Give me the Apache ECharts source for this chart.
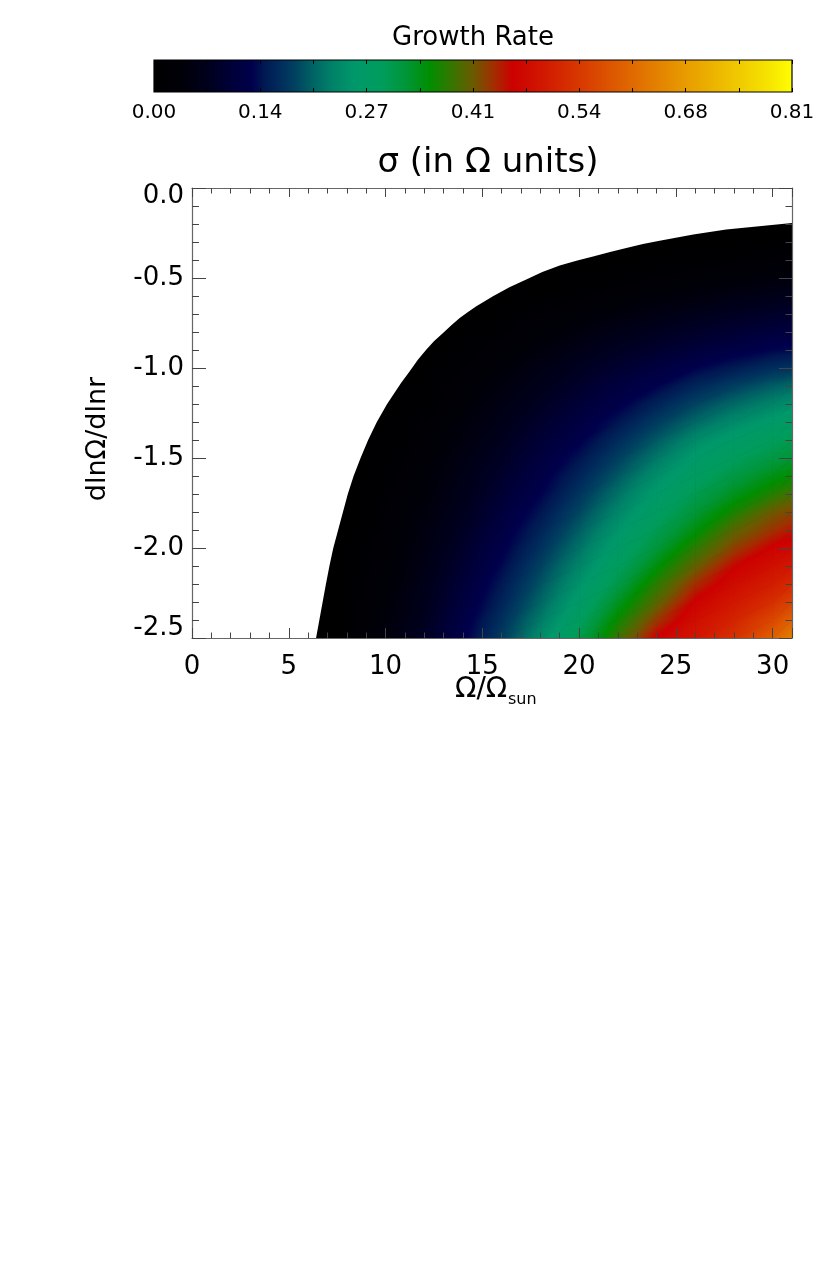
<!DOCTYPE html>
<html>
<head>
<meta charset="utf-8">
<title>Growth Rate</title>
<script src="https://cdn.jsdelivr.net/npm/echarts@6/dist/echarts.min.js"></script>
<style>
  html, body { margin: 0; padding: 0; background: #fff; }
  #main { width: 830px; height: 1285px; }
</style>
</head>
<body>
<div id="main"></div>
<script>
// grid columns (Omega/Omega_sun) and rows (dlnOmega/dlnr) the growth rate was read at
const omegaCols = [8, 10, 12, 14, 16, 18, 20, 22, 24, 26, 28, 30, 31];
const shearRows = [-0.2, -0.3, -0.4, -0.5, -0.6, -0.7, -0.8, -0.9, -1.0, -1.1, -1.2, -1.3,
  -1.4, -1.5, -1.6, -1.7, -1.8, -1.9, -2.0, -2.1, -2.2, -2.3, -2.4, -2.5];
const n = null; // stable, no growth
const sigma = [
  [n, n, n, n, n, n, n, n, n, n, n, n, 0.001],
  [n, n, n, n, n, n, n, n, 0.000, 0.003, 0.006, 0.009, 0.012],
  [n, n, n, n, n, n, 0.000, 0.004, 0.009, 0.014, 0.018, 0.023, 0.026],
  [n, n, n, n, n, 0.001, 0.007, 0.014, 0.021, 0.027, 0.033, 0.039, 0.043],
  [n, n, n, n, 0.002, 0.010, 0.018, 0.027, 0.035, 0.043, 0.052, 0.060, 0.064],
  [n, n, n, n, 0.010, 0.020, 0.030, 0.041, 0.053, 0.064, 0.074, 0.082, 0.086],
  [n, n, n, 0.006, 0.018, 0.030, 0.044, 0.059, 0.072, 0.082, 0.093, 0.103, 0.108],
  [n, n, n, 0.013, 0.027, 0.042, 0.059, 0.074, 0.088, 0.101, 0.115, 0.127, 0.132],
  [n, n, 0.005, 0.020, 0.035, 0.054, 0.072, 0.090, 0.107, 0.125, 0.143, 0.161, 0.166],
  [n, n, 0.010, 0.026, 0.045, 0.064, 0.084, 0.105, 0.125, 0.153, 0.176, 0.198, 0.207],
  [n, n, 0.015, 0.032, 0.053, 0.074, 0.097, 0.119, 0.150, 0.180, 0.207, 0.230, 0.242],
  [n, 0.004, 0.020, 0.039, 0.061, 0.085, 0.109, 0.138, 0.173, 0.206, 0.236, 0.263, 0.275],
  [n, 0.008, 0.024, 0.045, 0.069, 0.095, 0.121, 0.158, 0.195, 0.236, 0.267, 0.289, 0.300],
  [n, 0.011, 0.028, 0.052, 0.077, 0.105, 0.137, 0.176, 0.218, 0.261, 0.289, 0.312, 0.322],
  [n, 0.014, 0.033, 0.058, 0.085, 0.115, 0.152, 0.194, 0.241, 0.279, 0.311, 0.339, 0.352],
  [n, 0.017, 0.037, 0.063, 0.093, 0.125, 0.167, 0.213, 0.261, 0.300, 0.334, 0.368, 0.385],
  [0.002, 0.020, 0.042, 0.069, 0.102, 0.138, 0.182, 0.231, 0.279, 0.320, 0.363, 0.406, 0.418],
  [0.004, 0.023, 0.047, 0.075, 0.111, 0.151, 0.198, 0.250, 0.298, 0.343, 0.395, 0.428, 0.443],
  [0.007, 0.025, 0.051, 0.083, 0.120, 0.164, 0.214, 0.268, 0.318, 0.372, 0.421, 0.459, 0.468],
  [0.009, 0.028, 0.056, 0.090, 0.130, 0.178, 0.230, 0.286, 0.344, 0.400, 0.452, 0.479, 0.492],
  [0.011, 0.030, 0.061, 0.098, 0.141, 0.191, 0.247, 0.307, 0.371, 0.431, 0.472, 0.501, 0.518],
  [0.012, 0.034, 0.065, 0.105, 0.151, 0.204, 0.265, 0.332, 0.394, 0.458, 0.491, 0.526, 0.555],
  [0.015, 0.038, 0.070, 0.113, 0.163, 0.220, 0.284, 0.356, 0.425, 0.476, 0.510, 0.560, 0.595],
  [0.017, 0.042, 0.077, 0.121, 0.174, 0.238, 0.304, 0.380, 0.457, 0.490, 0.530, 0.595, 0.635]
];

// marginal stability curve (white region lies left of / above it)
const edgeOmega = [6.41, 6.58, 6.75, 6.92, 7.1, 7.3, 7.55, 7.8, 8.05, 8.35, 8.71, 9.1, 9.55,
  10.08, 10.8, 11.24, 11.67, 12.1, 12.5, 12.97, 13.4, 13.83, 14.26, 14.69, 15.1, 15.55,
  16.4, 17.27, 18.1, 19.0, 19.86, 20.72, 21.6, 22.44, 23.3, 24.16, 25.9, 27.6, 29.3, 31.0];
const edgeShear = [-2.5, -2.4, -2.3, -2.2, -2.1, -2.0, -1.9, -1.8, -1.7, -1.6, -1.5, -1.4, -1.3,
  -1.2, -1.083, -1.02, -0.954, -0.898, -0.852, -0.806, -0.763, -0.722, -0.689, -0.657,
  -0.63, -0.602, -0.552, -0.509, -0.467, -0.43, -0.404, -0.38, -0.356, -0.333, -0.311, -0.293,
  -0.259, -0.231, -0.213, -0.194];

// colour bar ticks
const barTickValues = [0, 0.135, 0.27, 0.405, 0.54, 0.675, 0.81];
const barTickText = ['0.00', '0.14', '0.27', '0.41', '0.54', '0.68', '0.81'];

const FONT = 'DejaVu Sans';

// colour table (black - blue - green - red - yellow)
const cmapStops = [
  [0.000, '#000000'], [0.035, '#000008'], [0.070, '#00001e'], [0.105, '#00003e'],
  [0.125, '#00004c'], [0.140, '#001852'], [0.160, '#002c5c'], [0.180, '#004260'],
  [0.200, '#006064'], [0.225, '#008068'], [0.255, '#00986a'], [0.290, '#009c5c'],
  [0.320, '#009638'], [0.350, '#008e00'], [0.380, '#3a7400'], [0.405, '#6a5a00'],
  [0.430, '#a03000'], [0.455, '#cc0000'], [0.500, '#d21c00'], [0.545, '#d83c00'],
  [0.610, '#e06c00'], [0.675, '#e89c00'], [0.740, '#f0c800'], [0.780, '#f6e400'],
  [0.810, '#ffff00']
];

function hexRgb(h) {
  return [parseInt(h.slice(1, 3), 16), parseInt(h.slice(3, 5), 16), parseInt(h.slice(5, 7), 16)];
}
function cmap(v) {
  if (v <= cmapStops[0][0]) return cmapStops[0][1];
  for (let k = 1; k < cmapStops.length; k++) {
    if (v <= cmapStops[k][0]) {
      const t0 = cmapStops[k - 1][0], t1 = cmapStops[k][0];
      const a = hexRgb(cmapStops[k - 1][1]), b = hexRgb(cmapStops[k][1]);
      const f = (v - t0) / (t1 - t0);
      return 'rgb(' + a.map((c, i) => Math.round(c + (b[i] - c) * f)).join(',') + ')';
    }
  }
  return cmapStops[cmapStops.length - 1][1];
}

// one triangle, shaded along its value gradient through the colour table
function shadedTriangle(p, v) {
  const dx1 = p[1][0] - p[0][0], dy1 = p[1][1] - p[0][1], dv1 = v[1] - v[0];
  const dx2 = p[2][0] - p[0][0], dy2 = p[2][1] - p[0][1], dv2 = v[2] - v[0];
  const det = dx1 * dy2 - dx2 * dy1;
  const lo = Math.min(v[0], v[1], v[2]), hi = Math.max(v[0], v[1], v[2]);
  let fill;
  if (hi - lo < 1e-6 || Math.abs(det) < 1e-9) {
    fill = cmap((lo + hi) / 2);
  } else {
    const gx = (dv1 * dy2 - dv2 * dy1) / det;
    const gy = (dx1 * dv2 - dx2 * dv1) / det;
    const g2 = gx * gx + gy * gy;
    const sx = p[0][0] + (lo - v[0]) * gx / g2, sy = p[0][1] + (lo - v[0]) * gy / g2;
    const ex = p[0][0] + (hi - v[0]) * gx / g2, ey = p[0][1] + (hi - v[0]) * gy / g2;
    const stops = [{ offset: 0, color: cmap(lo) }];
    cmapStops.forEach(s => {
      if (s[0] > lo && s[0] < hi) stops.push({ offset: (s[0] - lo) / (hi - lo), color: s[1] });
    });
    stops.push({ offset: 1, color: cmap(hi) });
    fill = new echarts.graphic.LinearGradient(sx, sy, ex, ey, stops, true);
  }
  return { type: 'polygon', shape: { points: p }, style: { fill: fill, stroke: fill, lineWidth: 0.8 } };
}

const cells = [];
const val = (i, j) => (sigma[i][j] == null ? 0 : sigma[i][j]);
for (let i = 0; i < shearRows.length - 1; i++) {
  for (let j = 0; j < omegaCols.length - 1; j++) {
    const c = [val(i, j), val(i, j + 1), val(i + 1, j), val(i + 1, j + 1)];
    if (Math.max.apply(null, c) <= 0) continue;
    cells.push([omegaCols[j], shearRows[i], omegaCols[j + 1], shearRows[i + 1]].concat(c));
  }
}

const chart = echarts.init(document.getElementById('main'));

const tickGray = '#444';
const lineGray = '#666';
const mainLabel = { fontSize: 26, fontFamily: FONT, color: '#000' };

function frameAxis(extra) {
  return Object.assign({
    type: 'value', z: 10,
    axisLine: { show: false, onZero: false },
    axisLabel: { show: false },
    splitLine: { show: false }
  }, extra);
}

const option = {
  animation: false,
  backgroundColor: '#fff',
  grid: [
    { left: 192, top: 188, width: 600, height: 450, show: true, backgroundColor: '#000', borderWidth: 0 },
    { left: 154, top: 60, width: 638, height: 32 }
  ],
  xAxis: [
    frameAxis({ gridIndex: 0, position: 'bottom', min: 0, max: 31, interval: 5,
      axisLine: { show: true, onZero: false, lineStyle: { color: lineGray, width: 1.2 } },
      axisTick: { show: true, inside: true, length: 10, lineStyle: { color: tickGray } },
      axisLabel: Object.assign({ show: true, margin: 16, formatter: v => (v % 5 === 0 ? String(v) : '') }, mainLabel) }),
    frameAxis({ gridIndex: 0, position: 'bottom', min: 0, max: 31, interval: 1,
      axisTick: { show: true, inside: true, length: 5.5, lineStyle: { color: tickGray } } }),
    frameAxis({ gridIndex: 0, position: 'top', min: 0, max: 31, interval: 5,
      axisLine: { show: true, onZero: false, lineStyle: { color: lineGray, width: 1.2 } },
      axisTick: { show: true, inside: true, length: 9, lineStyle: { color: tickGray } } }),
    frameAxis({ gridIndex: 0, position: 'top', min: 0, max: 31, interval: 1,
      axisTick: { show: true, inside: true, length: 5.5, lineStyle: { color: tickGray } } }),
    frameAxis({ gridIndex: 1, position: 'bottom', min: 0, max: 0.81, interval: 0.0675,
      axisTick: { show: true, inside: true, length: 4, lineStyle: { color: '#000' } },
      axisLabel: { show: true, interval: 0, margin: 11, fontSize: 20, fontFamily: FONT, color: '#000',
        showMinLabel: true, showMaxLabel: true,
        formatter: v => {
          const k = barTickValues.findIndex(t => Math.abs(t - v) < 1e-6);
          return k < 0 ? '' : barTickText[k];
        } } }),
    frameAxis({ gridIndex: 1, position: 'top', min: 0, max: 0.81, interval: 0.0675,
      axisTick: { show: true, inside: true, length: 4, lineStyle: { color: '#000' } } })
  ],
  yAxis: [
    frameAxis({ gridIndex: 0, position: 'left', min: -2.5, max: 0, interval: 0.5,
      axisLine: { show: true, onZero: false, lineStyle: { color: lineGray, width: 1.2 } },
      axisTick: { show: true, inside: true, length: 14, lineStyle: { color: tickGray } },
      minorTick: { show: true, splitNumber: 5, length: 7, lineStyle: { color: tickGray } },
      axisLabel: Object.assign({
        show: true, margin: 8, showMinLabel: true, showMaxLabel: true,
        formatter: v => (v === 0 ? '{hi|0.0}' : (Math.abs(v + 2.5) < 1e-9 ? '{lo|-2.5}' : v.toFixed(1))),
        rich: {
          hi: Object.assign({ padding: [17, 0, 0, 0] }, mainLabel),
          lo: Object.assign({ padding: [0, 0, 20, 0] }, mainLabel)
        }
      }, mainLabel) }),
    frameAxis({ gridIndex: 0, position: 'right', min: -2.5, max: 0, interval: 0.5,
      axisLine: { show: true, onZero: false, lineStyle: { color: lineGray, width: 1.2 } },
      axisTick: { show: true, inside: true, length: 13, lineStyle: { color: tickGray } },
      minorTick: { show: true, splitNumber: 5, length: 6.5, lineStyle: { color: tickGray } } }),
    { gridIndex: 1, type: 'value', min: 0, max: 1, show: false }
  ],
  series: [
    {
      // growth rate field
      type: 'custom', xAxisIndex: 0, yAxisIndex: 0, silent: true, z: 1,
      encode: { x: [0, 2], y: [1, 3] },
      data: cells,
      renderItem: function (params, api) {
        const x0 = api.value(0), y0 = api.value(1), x1 = api.value(2), y1 = api.value(3);
        const a = api.coord([x0, y0]), b = api.coord([x1, y0]);
        const c = api.coord([x0, y1]), d = api.coord([x1, y1]);
        const va = api.value(4), vb = api.value(5), vc = api.value(6), vd = api.value(7);
        return { type: 'group', children: [
          shadedTriangle([a, b, c], [va, vb, vc]),
          shadedTriangle([b, d, c], [vb, vd, vc])
        ] };
      }
    },
    {
      // stable region
      type: 'custom', xAxisIndex: 0, yAxisIndex: 0, silent: true, z: 3, clip: false,
      data: [[0, 0]],
      renderItem: function (params, api) {
        const pts = [api.coord([-0.2, -2.52]), api.coord([6.37, -2.52])];
        for (let k = 0; k < edgeOmega.length; k++) pts.push(api.coord([edgeOmega[k], edgeShear[k]]));
        pts.push(api.coord([31.2, -0.19]), api.coord([31.2, 0.02]), api.coord([-0.2, 0.02]));
        return { type: 'polygon', shape: { points: pts }, style: { fill: '#fff', stroke: null } };
      }
    },
    {
      // colour bar
      type: 'custom', xAxisIndex: 4, yAxisIndex: 2, silent: true, z: 2,
      data: [[0, 0.81]],
      renderItem: function (params, api) {
        const p0 = api.coord([api.value(0), 0]), p1 = api.coord([api.value(1), 1]);
        const top = api.value(1);
        const stops = cmapStops.map(s => ({ offset: s[0] / top, color: s[1] }));
        return {
          type: 'rect',
          shape: { x: p0[0], y: p1[1], width: p1[0] - p0[0], height: p0[1] - p1[1] },
          style: { fill: new echarts.graphic.LinearGradient(0, 0, 1, 0, stops), stroke: '#000', lineWidth: 1.2 }
        };
      }
    }
  ],
  graphic: [
    { type: 'text', x: 473, y: 38.5, z: 20,
      style: { text: 'Growth Rate', fontSize: 26, fontFamily: FONT, fill: '#000',
        align: 'center', verticalAlign: 'middle', textAlign: 'center', textVerticalAlign: 'middle' } },
    { type: 'text', x: 488, y: 163, z: 20,
      style: { text: 'σ (in Ω units)', fontSize: 34, fontFamily: FONT, fill: '#000',
        align: 'center', verticalAlign: 'middle', textAlign: 'center', textVerticalAlign: 'middle' } },
    { type: 'text', x: 455, y: 690, z: 20,
      style: { text: 'Ω/Ω', fontSize: 28, fontFamily: FONT, fill: '#000',
        align: 'left', verticalAlign: 'middle', textAlign: 'left', textVerticalAlign: 'middle' } },
    { type: 'text', x: 508, y: 700, z: 20,
      style: { text: 'sun', fontSize: 16, fontFamily: FONT, fill: '#000',
        align: 'left', verticalAlign: 'middle', textAlign: 'left', textVerticalAlign: 'middle' } },
    { type: 'text', x: 98, y: 439, rotation: Math.PI / 2, z: 20,
      style: { text: 'dlnΩ/dlnr', fontSize: 27, fontFamily: FONT, fill: '#000',
        align: 'center', verticalAlign: 'middle', textAlign: 'center', textVerticalAlign: 'middle' } }
  ]
};

chart.setOption(option);
</script>
</body>
</html>
